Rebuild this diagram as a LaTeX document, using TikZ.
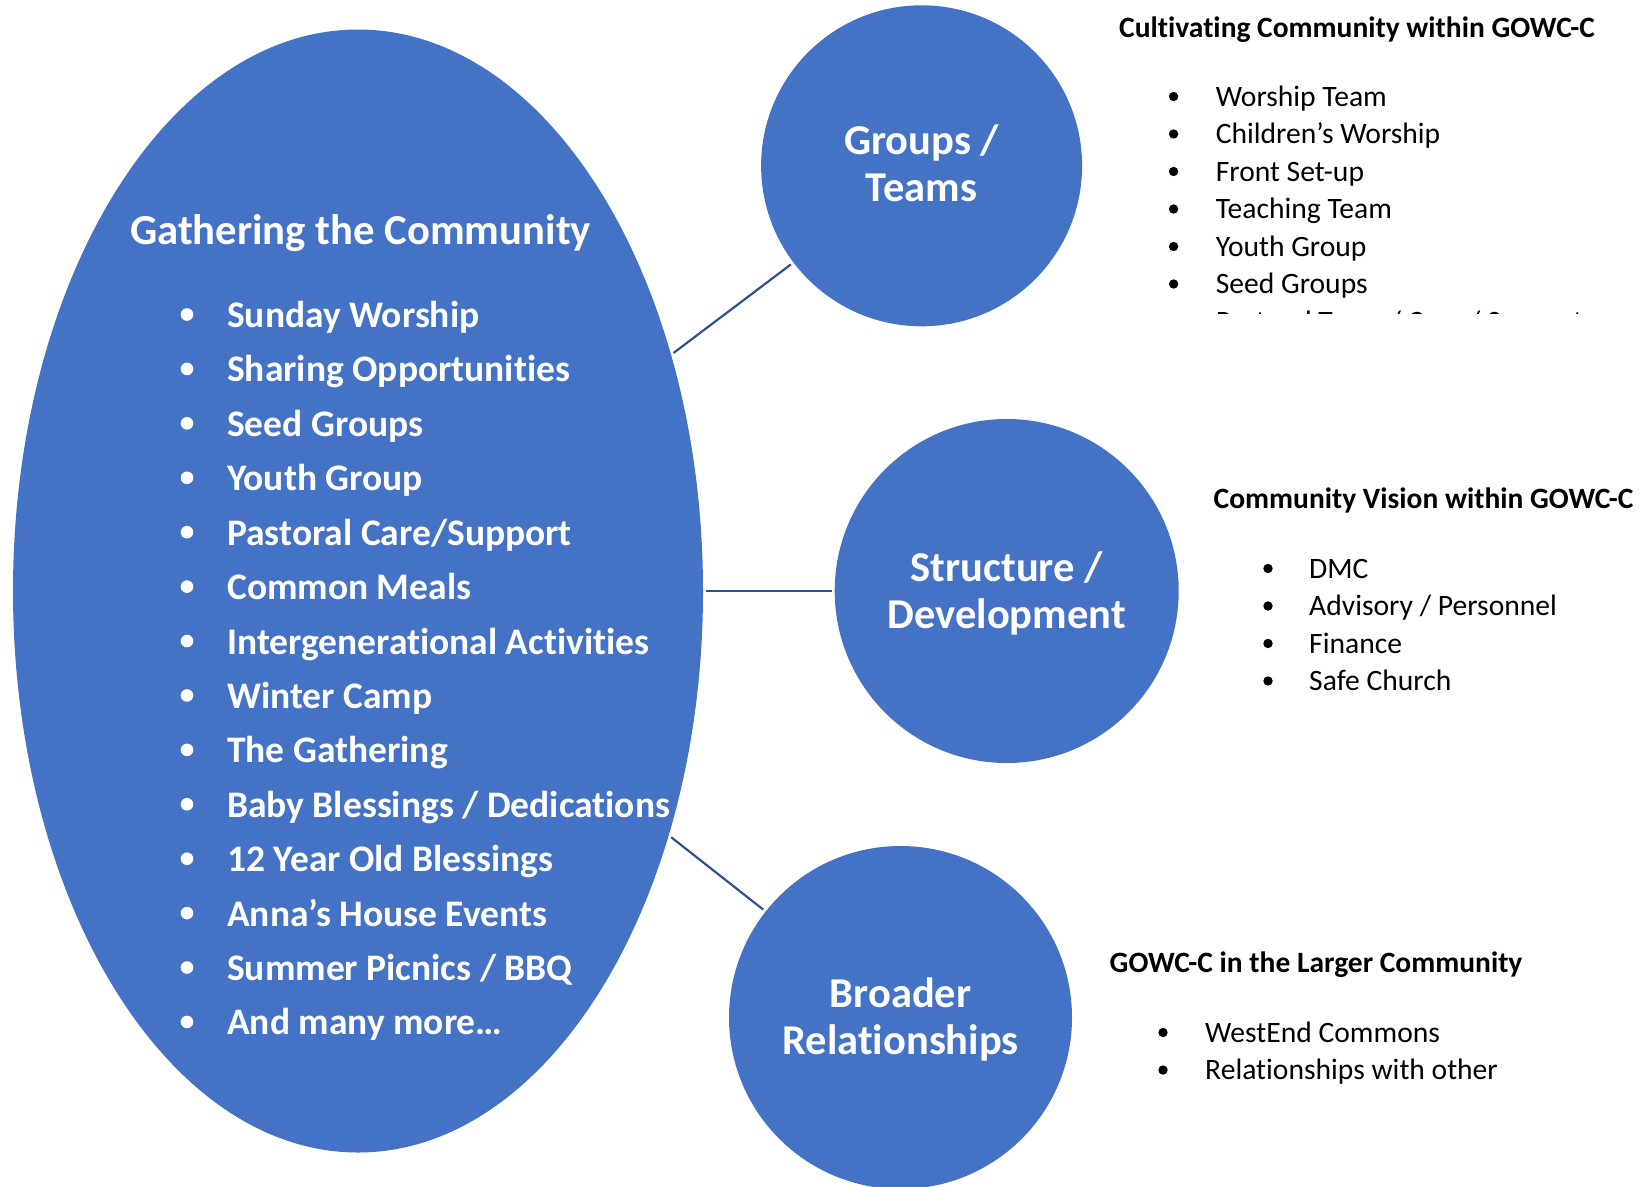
\documentclass[tikz,border=0pt]{standalone}
\usepackage{fontspec}
\setmainfont{Carlito}[Ligatures={NoCommon}]
\usetikzlibrary{shapes.geometric}
\definecolor{blueFill}{HTML}{4472C4}
\definecolor{blueLine}{HTML}{2F528F}
\begin{document}
\begin{tikzpicture}[x=1pt,y=-1pt,
  bubble/.style={circle, fill=blueFill, inner sep=0pt, text=white, font=\bfseries\fontsize{42.5}{47}\selectfont, align=center},
  conn/.style={draw=blueLine, line width=2.2pt, shorten <=3pt, shorten >=3pt},
  item/.style={anchor=base west, inner sep=0pt, text=white, font=\bfseries\fontsize{37.5}{44}\selectfont},
  ititle/.style={anchor=base west, inner sep=0pt, text=white, font=\bfseries\fontsize{42.7}{50}\selectfont},
  ritem/.style={anchor=base west, inner sep=0pt, font=\fontsize{29.6}{35}\selectfont},
  rhead/.style={anchor=base west, inner sep=0pt, font=\bfseries\fontsize{29.5}{35}\selectfont},
  wdot/.style={fill=white},
  bdot/.style={fill=black},
]
\useasboundingbox (0,0) rectangle (1646,1186);

% main shapes
\node[ellipse, fill=blueFill, inner sep=0pt, minimum width=690pt, minimum height=1123pt] (ell) at (358,591) {};
\node[bubble, minimum size=321pt] (groups) at (921.6,165.8) {};
\node[bubble, minimum size=344pt] (struct) at (1006.7,591) {};
\node[bubble, minimum size=343pt] (broad) at (900.5,1017.5) {};
\node[bubble, fill=none, minimum size=0pt] (groupsT) at (921.6,163.3) {Groups /\\Teams};
\node[bubble, fill=none, minimum size=0pt] (structT) at (1006.7,593) {Structure /\\Development};
\node[bubble, fill=none, minimum size=0pt] (broadT) at (900.5,1019.5) {Broader\\Relationships};

% connectors
\draw[conn] (ell) -- (groups);
\draw[conn] (ell) -- (struct);
\draw[conn] (ell) -- (broad);

% ellipse content
\node[ititle] (title) at (130,244) {Gathering the Community};
\foreach [count=\i from 0] \t in {Sunday Worship, Sharing Opportunities, Seed Groups, Youth Group, Pastoral Care/Support, Common Meals, Intergenerational Activities, Winter Camp, The Gathering, Baby Blessings / Dedications, 12 Year Old Blessings, Anna’s House Events, Summer Picnics / BBQ, And many more…}{
  \node[item] (e\i) at (227,{327.5+54.42*\i}) {\t};
  \fill[wdot] (187,{327.5+54.42*\i-13}) circle (6.3pt);
}

% block 1
\node[rhead] (h1) at (1119,37.5) {Cultivating Community within GOWC-C};
\foreach [count=\i from 0] \t in {Worship Team, Children’s Worship, Front Set-up, Teaching Team, Youth Group, Seed Groups}{
  \node[ritem] (a\i) at (1215.6,{106+37.5*\i}) {\t};
  \fill[bdot] (1173.6,{106+37.5*\i-9.5}) circle (4.7pt);
}
\begin{scope}
  \clip (1100,300) rectangle (1646,313);
  \node[ritem] (a6) at (1215.6,331) {Pastoral Team / Care / Support};
  \fill[bdot] (1173.6,321.5) circle (4.7pt);
\end{scope}

% block 2
\node[rhead] (h2) at (1213.5,508) {Community Vision within GOWC-C};
\foreach [count=\i from 0] \t in {DMC, Advisory / Personnel, Finance, Safe Church}{
  \node[ritem] (b\i) at (1309,{578+37.5*\i}) {\t};
  \fill[bdot] (1268,{578+37.5*\i-9.5}) circle (4.7pt);
}

% block 3
\node[rhead] (h3) at (1109.5,972) {GOWC-C in the Larger Community};
\foreach [count=\i from 0] \t in {WestEnd Commons, Relationships with other}{
  \node[ritem] (c\i) at (1205,{1042+37.5*\i}) {\t};
  \fill[bdot] (1163,{1042+37.5*\i-9.5}) circle (4.7pt);
}
\end{tikzpicture}
\end{document}
